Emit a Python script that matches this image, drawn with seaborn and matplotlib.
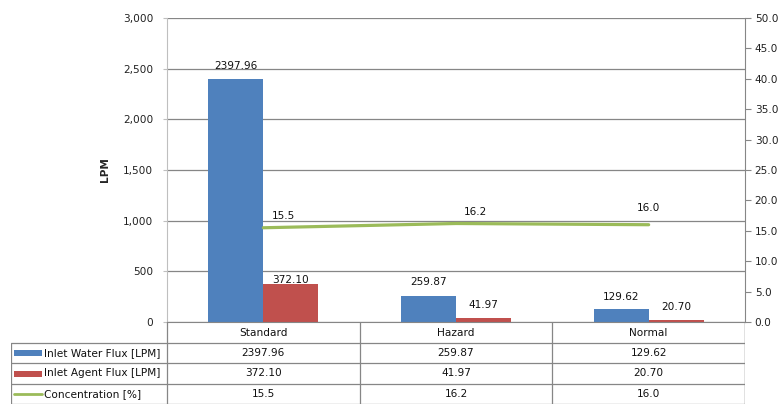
import matplotlib
matplotlib.use("Agg")
import matplotlib.pyplot as plt
import matplotlib.ticker as mticker
import seaborn as sns
import pandas as pd
import numpy as np

categories = ["Standard", "Hazard", "Normal"]
water_flux = [2397.96, 259.87, 129.62]
agent_flux = [372.10, 41.97, 20.70]
concentration = [15.5, 16.2, 16.0]
series_names = ["Inlet Water Flux [LPM]", "Inlet Agent Flux [LPM]", "Concentration [%]"]
water_labels = ["2397.96", "259.87", "129.62"]
agent_labels = ["372.10", "41.97", "20.70"]
conc_labels = ["15.5", "16.2", "16.0"]

BLUE, RED, GREEN = "#4F81BD", "#C0504D", "#9BBB59"
GRID = "#868686"

sns.set_style("white")
plt.rcParams["font.family"] = ["DejaVu Sans"]
FS = 7.6

W, H = 783, 408
fig = plt.figure(figsize=(W / 100, H / 100), dpi=100)
L, R, T, B = 167, 745, 18, 322
ax = fig.add_axes([L / W, 1 - B / H, (R - L) / W, (B - T) / H])

df = pd.DataFrame({
    "cat": categories * 2,
    "val": water_flux + agent_flux,
    "series": [series_names[0]] * 3 + [series_names[1]] * 3,
})
sns.barplot(data=df, x="cat", y="val", hue="series", palette=[BLUE, RED],
            width=0.57, gap=0, saturation=1, legend=False, ax=ax, errorbar=None,
            linewidth=0, edgecolor="none")
ax.set_xlim(-0.5, 2.5)
ax.set_ylim(0, 3000)
ax.yaxis.set_major_locator(mticker.MultipleLocator(500))
ax.yaxis.set_major_formatter(mticker.FuncFormatter(lambda v, p: f"{int(v):,}"))
ax.grid(axis="y", color=GRID, linewidth=0.9)
ax.set_axisbelow(True)
ax.set_xticks([])
ax.set_xlabel("")
ax.set_ylabel("LPM", fontsize=FS, fontweight="bold", labelpad=9)
ax.tick_params(axis="y", labelsize=FS, colors="#222", length=3, width=0.8, pad=7, left=True)
ax.tick_params(axis="y", color="#BFBFBF")
for s in ["top", "right"]:
    ax.spines[s].set_visible(False)
ax.spines["left"].set_color("#BFBFBF")
ax.spines["bottom"].set_color(GRID)

# bar labels
bar_off = [[13, 14, 12], [4, 13, 13]]
containers = ax.containers
for ci, (cont, labs) in enumerate(zip(containers, [water_labels, agent_labels])):
    for bi, (rect, lab) in enumerate(zip(cont.patches, labs)):
        ax.annotate(lab, (rect.get_x() + rect.get_width() / 2, rect.get_height()),
                    xytext=(0, bar_off[ci][bi]), textcoords="offset pixels",
                    ha="center", va="center", fontsize=FS, color="#111")

ax2 = ax.twinx()
sns.lineplot(x=np.arange(len(categories)), y=concentration, color=GREEN,
             linewidth=2.3, ax=ax2)
ax2.set_ylim(0, 50)
ax2.set_xlim(-0.5, 2.5)
ax2.yaxis.set_major_locator(mticker.MultipleLocator(5))
ax2.yaxis.set_major_formatter(mticker.FormatStrFormatter("%.1f"))
ax2.tick_params(axis="y", labelsize=FS, colors="#222", length=4, width=0.8, pad=3, right=True)
ax2.tick_params(axis="y", color=GRID)
ax2.grid(False)
for s in ["top", "left", "bottom"]:
    ax2.spines[s].set_visible(False)
ax2.spines["right"].set_color(GRID)

line_off = [(20, 12), (19, 12), (0, 17)]
for i, (v, lab) in enumerate(zip(concentration, conc_labels)):
    ax2.annotate(lab, (i, v), xytext=(line_off[i][0], line_off[i][1]),
                 textcoords="offset pixels", ha="center", va="center",
                 fontsize=FS, color="#111")

# data table
TL, TB = 11, 404
tax = fig.add_axes([TL / W, 1 - TB / H, (R - TL) / W, (TB - B) / H])
tax.set_xlim(TL, R)
tax.set_ylim(TB, B)
tax.axis("off")
rows = [322, 343, 363, 384, 404]
colw = (R - L) / 3
cols = [L + colw * k for k in range(4)]
lw = 0.9
for y in rows[1:]:
    tax.plot([TL, R], [y, y], color=GRID, lw=lw, solid_capstyle="butt")
tax.plot([TL, TL], [rows[1], rows[-1]], color=GRID, lw=lw)
for x in cols:
    tax.plot([x, x], [rows[0], rows[-1]], color=GRID, lw=lw)
tax.plot([R, R], [rows[0], rows[-1]], color=GRID, lw=lw)

for k, c in enumerate(categories):
    xc = (cols[k] + cols[k + 1]) / 2
    tax.text(xc, (rows[0] + rows[1]) / 2, c, ha="center", va="center", fontsize=FS, color="#111")
    for r, vals in enumerate([water_labels, agent_labels, conc_labels]):
        tax.text(xc, (rows[r + 1] + rows[r + 2]) / 2, vals[k], ha="center", va="center",
                 fontsize=FS, color="#111")

key_colors = [BLUE, RED, GREEN]
for r, name in enumerate(series_names):
    yc = (rows[r + 1] + rows[r + 2]) / 2
    if r < 2:
        tax.add_patch(plt.Rectangle((14, yc - 3), 28, 6, color=key_colors[r], lw=0))
    else:
        tax.plot([14, 42], [yc, yc], color=GREEN, lw=2)
    tax.text(44, yc, name, ha="left", va="center", fontsize=FS, color="#111")

fig.savefig("out.png", dpi=100)
